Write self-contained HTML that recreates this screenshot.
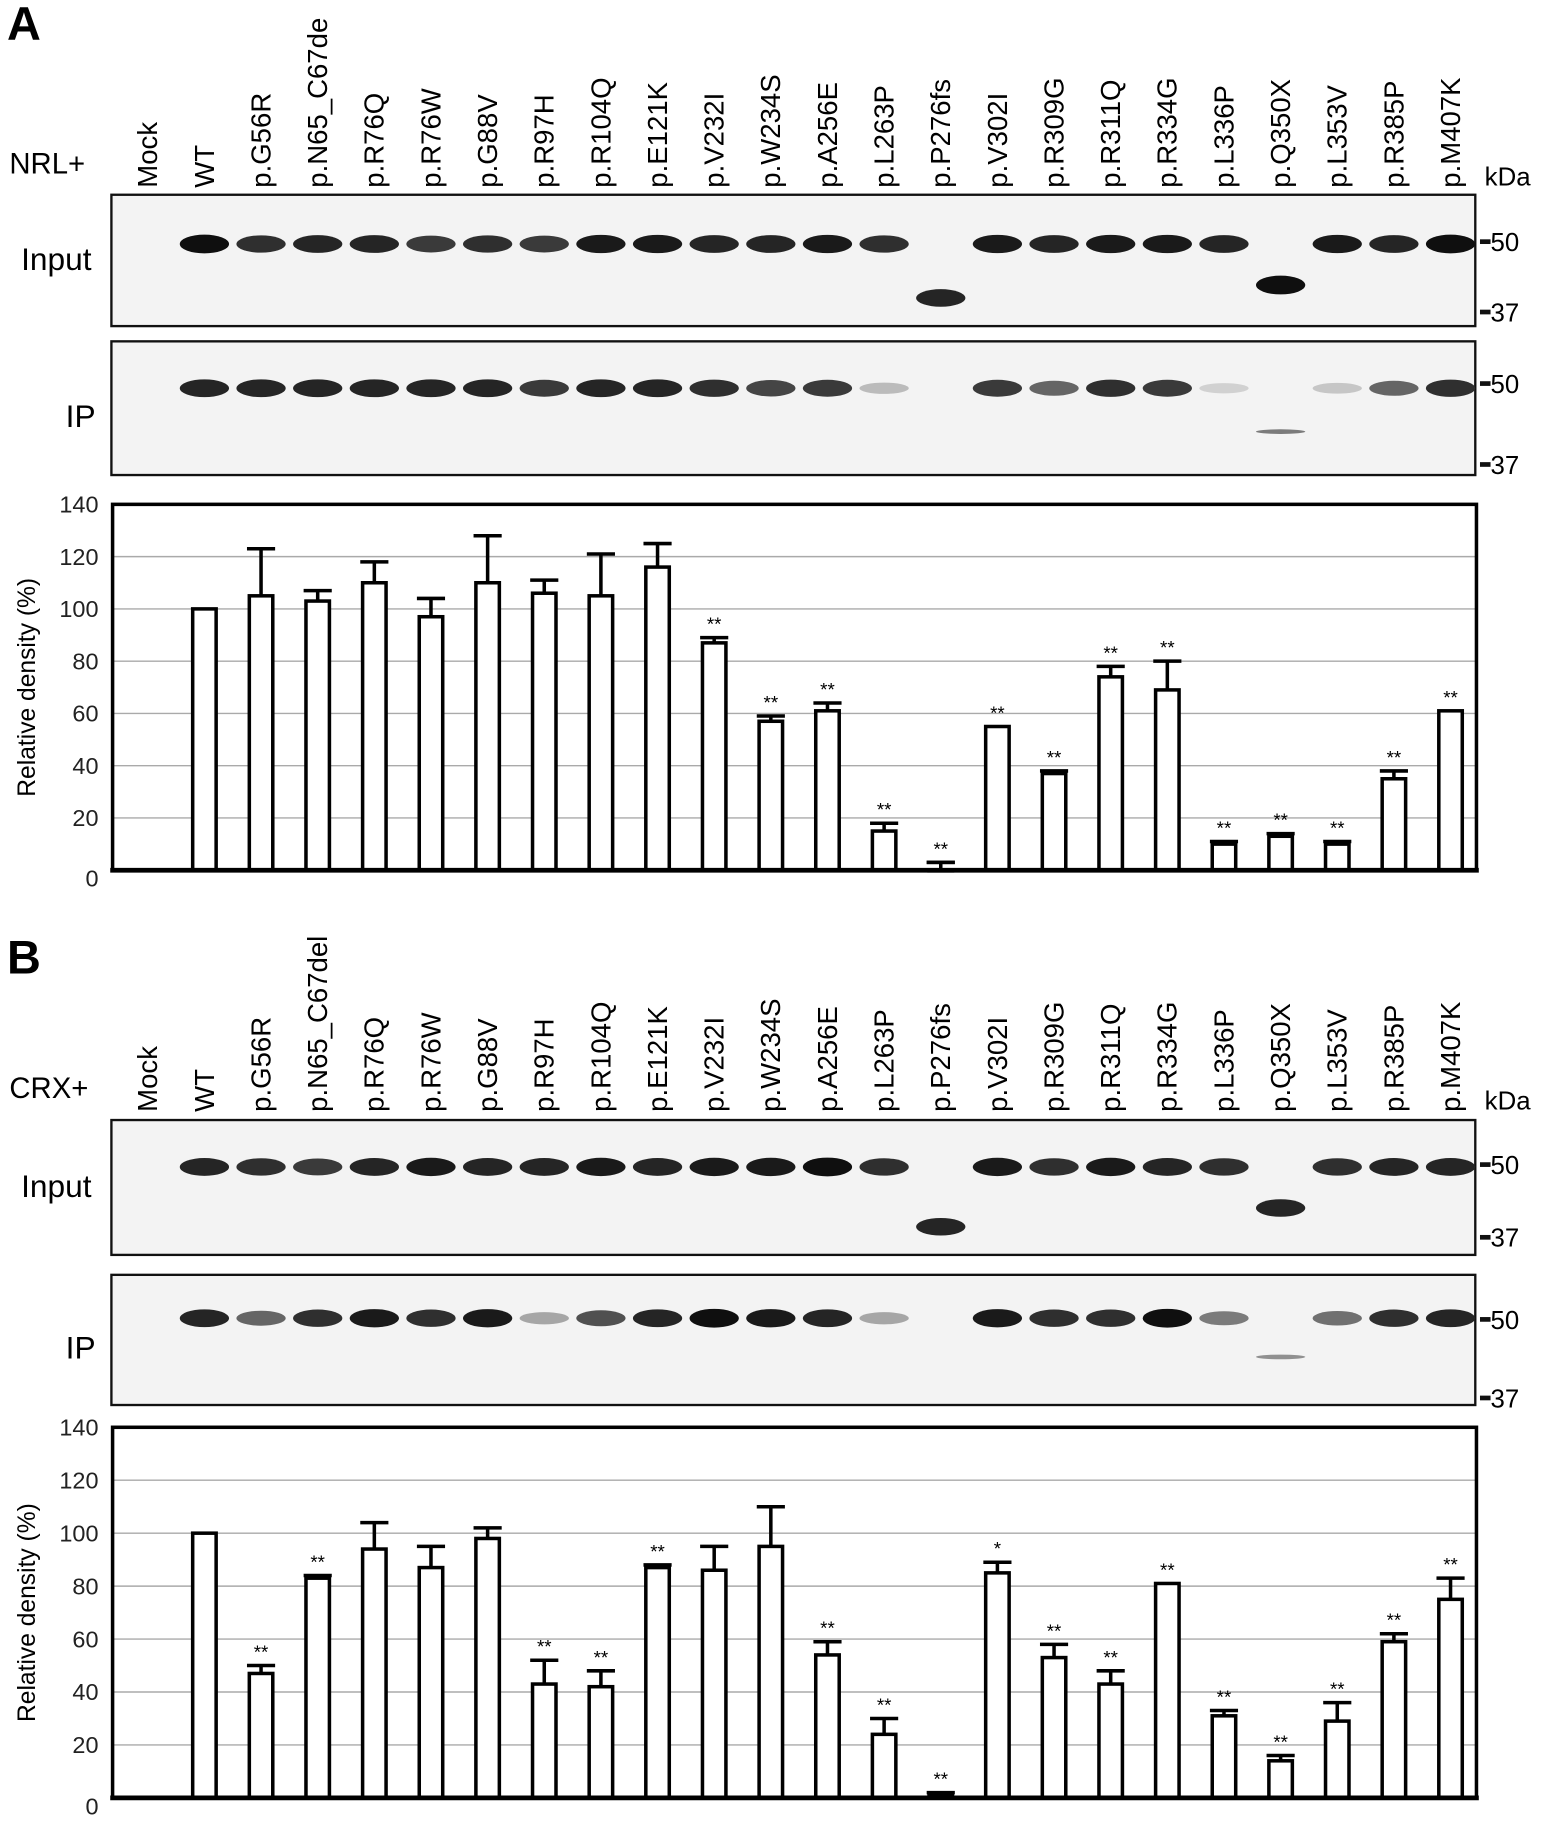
<!DOCTYPE html>
<html><head><meta charset="utf-8"><style>
html,body{margin:0;padding:0;background:#fff;}
svg{display:block;font-family:"Liberation Sans",Arial,sans-serif;}
</style></head><body>
<svg id="fig" width="1548" height="1839" viewBox="0 0 1320 1568" xmlns="http://www.w3.org/2000/svg"></svg>
<script>
const categories = ["WT","p.G56R","p.N65_C67del","p.R76Q","p.R76W","p.G88V","p.R97H","p.R104Q","p.E121K","p.V232I","p.W234S","p.A256E","p.L263P","p.P276fs","p.V302I","p.R309G","p.R311Q","p.R334G","p.L336P","p.Q350X","p.L353V","p.R385P","p.M407K"];
const labelsA = ["Mock","WT","p.G56R","p.N65_C67de","p.R76Q","p.R76W","p.G88V","p.R97H","p.R104Q","p.E121K","p.V232I","p.W234S","p.A256E","p.L263P","p.P276fs","p.V302I","p.R309G","p.R311Q","p.R334G","p.L336P","p.Q350X","p.L353V","p.R385P","p.M407K"];
const labelsB = ["Mock","WT","p.G56R","p.N65_C67del","p.R76Q","p.R76W","p.G88V","p.R97H","p.R104Q","p.E121K","p.V232I","p.W234S","p.A256E","p.L263P","p.P276fs","p.V302I","p.R309G","p.R311Q","p.R334G","p.L336P","p.Q350X","p.L353V","p.R385P","p.M407K"];
const valuesA = [100,105,103,110,97,110,106,105,116,87,57,61,15,0,55,37,74,69,10,13,10,35,61];
const errTopA = [100,123,107,118,104,128,111,121,125,89,59,64,18,3,55,38,78,80,11,14,11,38,61];
const starsA = ["","","","","","","","","","**","**","**","**","**","**","**","**","**","**","**","**","**","**"];
const valuesB = [100,47,83,94,87,98,43,42,87,86,95,54,24,1,85,53,43,81,31,14,29,59,75];
const errTopB = [100,50,84,104,95,102,52,48,88,95,110,59,30,2,89,58,48,81,33,16,36,62,83];
const starsB = ["","**","**","","","","**","**","**","","","**","**","**","*","**","**","**","**","**","**","**","**"];
const yTicks = [0,20,40,60,80,100,120,140];
const inputA = [1,.85,.9,.9,.8,.85,.8,.95,.95,.9,.9,.95,.85,0,.95,.9,.95,.95,.9,0,.95,.9,1];
const ipA = [.9,.9,.9,.9,.9,.9,.8,.9,.9,.85,.75,.8,.2,0,.8,.6,.85,.8,.1,0,.15,.6,.85];
const inputB = [.9,.85,.8,.9,.95,.9,.9,.95,.9,.95,.95,1,.85,0,.95,.85,.95,.9,.85,0,.85,.9,.9];
const ipB = [.9,.6,.85,.95,.85,.95,.3,.7,.9,1,.95,.9,.3,0,.95,.85,.85,1,.5,0,.55,.85,.9];

const svg = document.getElementById('fig');
const NS = 'http://www.w3.org/2000/svg';
function mk(tag, attrs, parent, text){
  const e = document.createElementNS(NS, tag);
  for (const k in attrs) e.setAttribute(k, attrs[k]);
  if (text !== undefined) e.textContent = text;
  (parent||svg).appendChild(e);
  return e;
}
const colX = i => 125 + i*48.3;
const bx = i => colX(i+1) + 1;

function panel(o){
  const g = mk('g', {});
  
  
  const L = mk('text', {x:6, y:o.y0+34, 'font-size':40, 'font-weight':'bold'}, g, o.letter);
  
  
  const t = mk('text', {x:8, y:o.labY-12, 'font-size':25}, g, o.title);
  
  
  o.labels.forEach((s,i)=>{
    const x = colX(i) + 9;
    const tx = mk('text', {x:x, y:o.labY, 'font-size':23.5, transform:`rotate(-90 ${x} ${o.labY})`}, g, s);
    
    
  });
  const k = mk('text', {x:1266, y:o.labY-2, 'font-size':22}, g, 'kDa');
  
  

  function blot(top, h, name, bandY, ints, truncY, m50, m37, truncIdx){
    const bg = mk('g', {}, g);
    
    
    mk('rect', {x:95, y:top, width:1163, height:h, fill:'#f3f3f3', stroke:'#111', 'stroke-width':2}, bg);
    ints.forEach((v,i)=>{
      if (v<=0) return;
      const c = Math.round(230 - v*215);
      const e = mk('ellipse', {cx:bx(i), cy:bandY, rx:21, ry:4+v*4, fill:`rgb(${c},${c},${c})`}, bg);
      
      
    });
    truncIdx.forEach((ti,j)=>{
      const v = truncY[j][1];
      const c = Math.round(230 - v*215);
      const e = mk('ellipse', {cx:bx(ti), cy:truncY[j][0], rx:21, ry:v>0.6?3+v*5:2, fill:`rgb(${c},${c},${c})`}, bg);
      
      
    });
    [[m50,'50'],[m37,'37']].forEach(([my,lab])=>{
      mk('rect', {x:1262, y:my-2, width:9, height:4, fill:'#111'}, bg);
      const mt = mk('text', {x:1271, y:my+8, 'font-size':22}, bg, lab);
      
      
    });
  }
  blot(o.inTop, o.inH, 'input-blot', o.inBand, o.input, o.inTrunc, o.in50, o.in37, [13,19]);
  const il = mk('text', {x:18, y:o.inTop+o.inH/2+8, 'font-size':27}, g, 'Input');
   
  blot(o.ipTop, o.ipH, 'ip-blot', o.ipBand, o.ip, o.ipTrunc, o.ip50, o.ip37, [19]);
  const pl = mk('text', {x:56, y:o.ipTop+o.ipH/2+16, 'font-size':27}, g, 'IP');
   

  const cg = mk('g', {}, g);
  
  
  const top = o.cTop, bot = o.cBot;
  const yS = v => bot - v*(bot-top)/140;
  yTicks.forEach(v=>{
    if (v>0 && v<140) mk('line', {x1:96, x2:1259, y1:yS(v), y2:yS(v), stroke:'#aaa', 'stroke-width':1.2}, cg);
    const tl = mk('text', {x:84, y:yS(v)+(v===0?14:7), 'font-size':20, 'text-anchor':'end', fill:'#222'}, cg, String(v));
    
    
  });
  const yt = mk('text', {x:30, y:(top+bot)/2, 'font-size':21, 'text-anchor':'middle', transform:`rotate(-90 30 ${(top+bot)/2})`}, cg, 'Relative density (%)');
   
  o.values.forEach((v,i)=>{
    const cx = bx(i), w = 20;
    const et = o.err[i];
    if (et > v) {
      mk('line', {x1:cx, x2:cx, y1:yS(v), y2:yS(et), stroke:'#000', 'stroke-width':3}, cg);
      mk('line', {x1:cx-12, x2:cx+12, y1:yS(et), y2:yS(et), stroke:'#000', 'stroke-width':3}, cg);
    }
    const r = mk('rect', {x:cx-w/2, y:yS(v), width:w, height:Math.max(yS(0)-yS(v),0.5), fill:'#fff', stroke:'#000', 'stroke-width':3}, cg);
    
    
    if (v===0) mk('line', {x1:cx-12, x2:cx+12, y1:yS(et), y2:yS(et), stroke:'#000', 'stroke-width':3}, cg);
    if (o.stars[i]) {
      const s = mk('text', {x:cx, y:yS(Math.max(et,v))-6, 'font-size':16, 'text-anchor':'middle'}, cg, o.stars[i]);
      
      
    }
  });
  mk('rect', {x:96, y:top, width:1163, height:bot-top, fill:'none', stroke:'#000', 'stroke-width':3}, cg);
  mk('line', {x1:94, x2:1261, y1:bot, y2:bot, stroke:'#000', 'stroke-width':4}, cg);
}

panel({name:'panel-a', letter:'A', y0:0, title:'NRL+', labels:labelsA, labY:160,
  inTop:166, inH:112, inBand:208, input:inputA, inTrunc:[[254,.9],[243,1]], in50:206, in37:266,
  ipTop:291, ipH:114, ipBand:331, ip:ipA, ipTrunc:[[368,.5]], ip50:327, ip37:396,
  cTop:430, cBot:742, values:valuesA, err:errTopA, stars:starsA});
panel({name:'panel-b', letter:'B', y0:796, title:'CRX+', labels:labelsB, labY:948,
  inTop:955, inH:115, inBand:995, input:inputB, inTrunc:[[1046,.9],[1030,.9]], in50:993, in37:1055,
  ipTop:1087, ipH:111, ipBand:1124, ip:ipB, ipTrunc:[[1157,.4]], ip50:1125, ip37:1192,
  cTop:1217, cBot:1533, values:valuesB, err:errTopB, stars:starsB});
</script>
</body></html>
